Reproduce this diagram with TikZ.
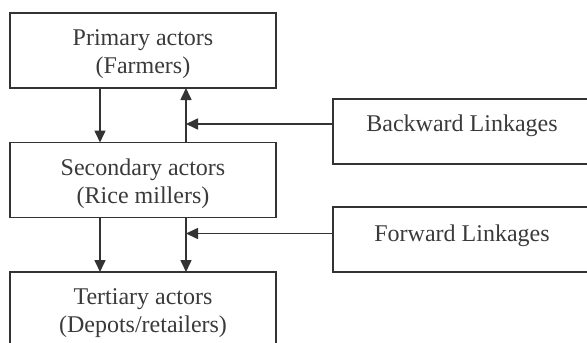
\documentclass[tikz,border=0pt]{standalone}
\usepackage{fontspec}
\setmainfont{Liberation Serif}
\usetikzlibrary{arrows.meta}
\definecolor{ink}{HTML}{333333}
\definecolor{label}{HTML}{3a3a3a}
\begin{document}
\begin{tikzpicture}[x=1pt,y=-1pt,
  actor/.style={draw=ink, line width=1.6pt, minimum width=266pt, minimum height=75pt,
    inner sep=0pt, outer sep=0pt},
  linkbox/.style={draw=ink, line width=1.6pt, minimum width=256pt, minimum height=65pt,
    inner sep=0pt, outer sep=0pt},
  txt/.style={anchor=base, inner sep=0pt, text=label, font=\fontsize{24}{28}\selectfont},
  flow/.style={draw=ink, line width=1.6pt, -{Triangle[length=12pt,width=11pt]}}]
\useasboundingbox (0,0) rectangle (587,343);
\begin{scope}
\clip (0,0) rectangle (587,343);
% actor chain
\node[actor] (prim) at (143,50.5) {};
\node[actor] (sec)  at (143,180) {};
\node[actor] (ter)  at (143,309.5) {};
\node[txt] (primA) at (143,45)  {Primary actors};
\node[txt] (primB) at (143,73)  {(Farmers)};
\node[txt] (secA)  at (143,175) {Secondary actors};
\node[txt] (secB)  at (143,203) {(Rice millers)};
\node[txt] (terA)  at (143,304) {Tertiary actors};
\node[txt] (terB)  at (143,332) {(Depots/retailers)};
% linkage boxes
\node[linkbox] (back) at (461,131.5) {};
\node[linkbox] (fwd)  at (461,239.5) {};
\node[txt] (backT) at (462,131) {Backward Linkages};
\node[txt] (fwdT)  at (462,241) {Forward Linkages};
% vertical flows
\coordinate (up)  at ([xshift=43pt]prim.south);
\coordinate (dn)  at ([xshift=43pt]ter.north);
\draw[flow] ([xshift=-43pt]prim.south) -- ([xshift=-43pt]sec.north);
\draw[flow] ([xshift=43pt]sec.north) -- (up);
\draw[flow] ([xshift=-43pt]sec.south) -- ([xshift=-43pt]ter.north);
\draw[flow] ([xshift=43pt]sec.south) -- (dn);
% linkage connectors
\draw[flow] ([yshift=7.5pt]back.west) -- ([yshift=7.5pt]back.west -| up);
\draw[flow] ([yshift=6pt]fwd.west) -- ([yshift=6pt]fwd.west -| dn);
\end{scope}
\end{tikzpicture}
\end{document}
